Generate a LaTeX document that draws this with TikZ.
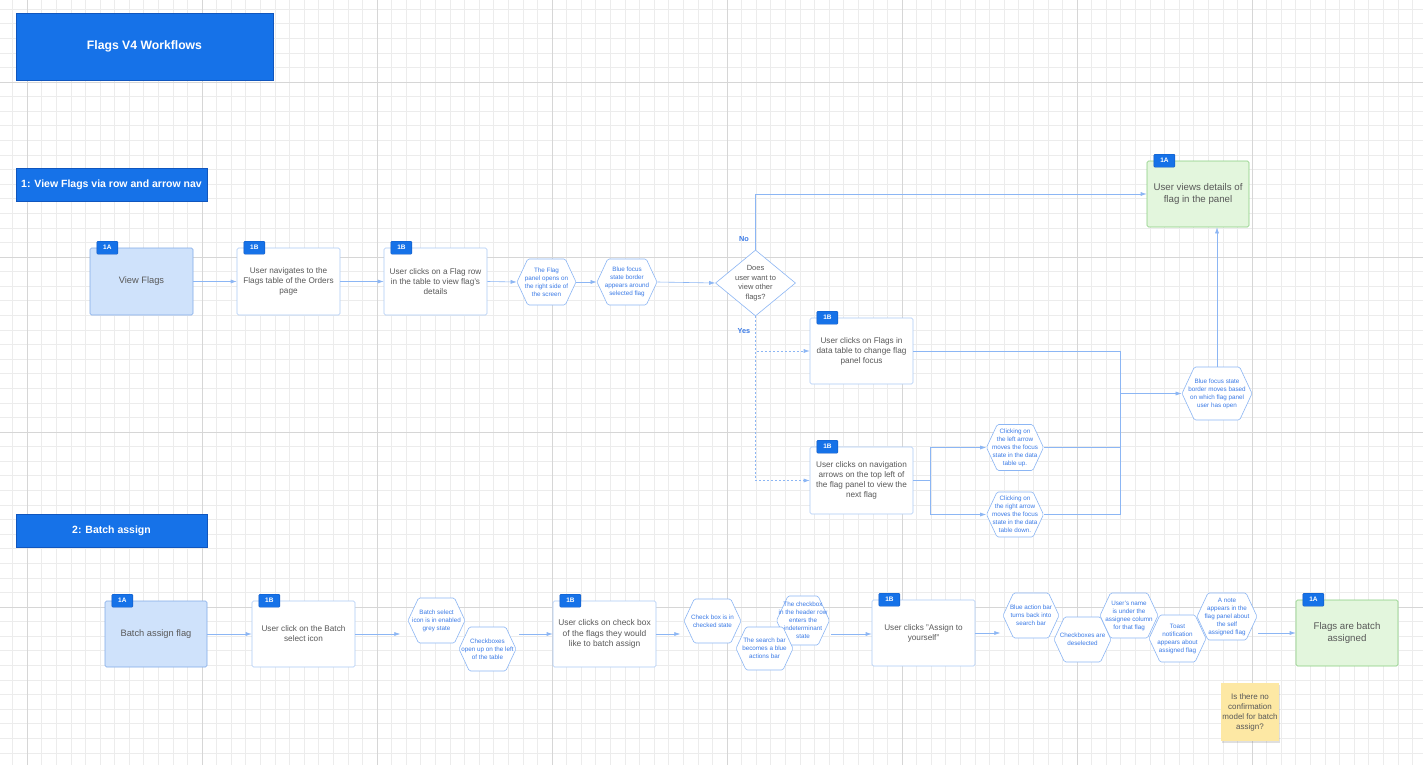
\documentclass[tikz,border=0pt]{standalone}
\usepackage{fontspec}
\setmainfont{Liberation Sans}
\usepackage{xcolor}
\usepackage{tikz}
\usetikzlibrary{calc, shapes.geometric, shapes.symbols, positioning, shadows, arrows.meta}

\definecolor{lucBlue}{RGB}{22,114,232}
\definecolor{lucDark}{RGB}{16,86,190}
\definecolor{startFill}{RGB}{207,226,251}
\definecolor{startLine}{RGB}{128,170,232}
\definecolor{endFill}{RGB}{227,246,221}
\definecolor{endLine}{RGB}{135,205,125}
\definecolor{boxLine}{RGB}{172,202,245}
\definecolor{hexLine}{RGB}{140,182,244}
\definecolor{hexText}{RGB}{58,122,230}
\definecolor{flowLine}{RGB}{140,182,244}
\definecolor{txtGray}{RGB}{88,88,88}
\definecolor{noteFill}{RGB}{253,232,164}
\definecolor{gridMinor}{RGB}{236,236,236}
\definecolor{gridMajor}{RGB}{214,214,214}

\begin{document}
\begin{tikzpicture}[>={Latex[length=6pt, width=4pt]}, x=1pt, y=-1pt,
    header/.style={fill=lucBlue, draw=lucDark, line width=0.6pt, text=white,
        font=\bfseries\fontsize{10.5}{12}\selectfont},
    wbox/.style={draw=boxLine, fill=white, rounded corners=1.5pt, line width=0.6pt,
        minimum width=103pt, minimum height=67pt, align=center, inner sep=0pt,
        text=txtGray, font=\fontsize{8.2}{10}\selectfont},
    abox/.style={wbox, fill=startFill, draw=startLine, font=\fontsize{9.3}{11}\selectfont},
    gbox/.style={wbox, fill=endFill, draw=endLine, font=\fontsize{9.7}{12.5}\selectfont},
    tag/.style={fill=lucBlue, draw=lucDark, rounded corners=1pt, text=white,
        font=\bfseries\fontsize{6.5}{7}\selectfont, minimum width=21pt,
        minimum height=13pt, inner sep=0pt, anchor=west, xshift=7pt},
    hexa/.style={signal, signal to=west and east, signal pointer angle=130,
        draw=hexLine, fill=white, rounded corners=1.5pt, line width=0.6pt,
        minimum width=58pt, minimum height=46pt, text=hexText, align=center,
        inner xsep=-12pt, inner ysep=0pt, font=\fontsize{6.3}{8}\selectfont},
    flow/.style={->, draw=flowLine, line width=0.6pt},
    link/.style={draw=flowLine, line width=0.6pt},
    dflow/.style={flow, dash pattern=on 2pt off 2pt},
    answer/.style={text=hexText, font=\bfseries\fontsize{7.3}{8}\selectfont}]

    \useasboundingbox (0,0) rectangle (1423,765);
    % Lưới nền
    \fill[white] (0,0) rectangle (1423,765);
    \foreach \i in {-1,...,96}
        \draw[gridMinor, line width=0.5pt] ({27+14.583*\i},0) -- ({27+14.583*\i},765);
    \foreach \j in {-5,...,46}
        \draw[gridMinor, line width=0.5pt] (0,{82+14.583*\j}) -- (1423,{82+14.583*\j});
    \foreach \i in {0,...,7}
        \draw[gridMajor, line width=0.8pt] ({27+175*\i},0) -- ({27+175*\i},765);
    \foreach \j in {0,...,3}
        \draw[gridMajor, line width=0.8pt] (0,{82+175*\j}) -- (1423,{82+175*\j});

    % Tiêu đề
    \node[header, minimum width=257pt, minimum height=67pt,
        font=\bfseries\fontsize{12.2}{14}\selectfont] (title) at (144.5,46.5) {Flags V4 Workflows};
    \node[header, minimum width=191pt, minimum height=33pt] (sec1) at (111.5,184.5)
        {1: View Flags via row and arrow nav};
    \node[header, minimum width=191pt, minimum height=33pt] (sec2) at (111.5,530.5)
        {2: Batch assign};

    % Luồng 1
    \node[abox] (v1) at (141.5,281.5) {View Flags};
    \node[wbox] (v2) at (288.5,281.5) {User navigates to the\\Flags table of the Orders\\page};
    \node[wbox] (v3) at (435.5,281.5) {User clicks on a Flag row\\in the table to view flag's\\details};
    \node[hexa, minimum width=59pt] (h1) at (546.5,282) {The Flag\\panel opens on\\the right side of\\the screen};
    \node[hexa, minimum width=60pt] (h2) at (627,282) {Blue focus\\state border\\appears around\\selected flag};
    \node[diamond, draw=hexLine, fill=white, line width=0.6pt, minimum width=80pt,
        minimum height=66pt, inner sep=-4pt, align=center, text=txtGray,
        font=\fontsize{7.5}{9.6}\selectfont] (d1) at (755.5,283)
        {Does\\user want to\\view other\\flags?};
    \node[gbox, minimum width=102pt, minimum height=66pt] (u1) at (1198,194)
        {User views details of\\flag in the panel};
    \node[wbox, minimum height=66pt] (c1) at (861.5,351)
        {User clicks on Flags in\\data table to change flag\\panel focus};
    \node[wbox] (c2) at (861.5,480.5)
        {User clicks on navigation\\arrows on the top left of\\the flag panel to view the\\next flag};
    \node[hexa, minimum width=57pt] (h3) at (1015,447.5)
        {Clicking on\\the left arrow\\moves the focus\\state in the data\\table up.};
    \node[hexa, minimum width=57pt, minimum height=45pt] (h4) at (1015,514.5)
        {Clicking on\\the right arrow\\moves the focus\\state in the data\\table down.};
    \node[hexa, minimum width=70pt, minimum height=53pt] (h5) at (1217,393.5)
        {Blue focus state\\border moves based\\on which flag panel\\user has open};
    \coordinate (j1) at (1120,393.5);
    \coordinate (j2) at (930,480.5);

    \draw[flow] (v1.east) -- (v2.west);
    \draw[flow] (v2.east) -- (v3.west);
    \draw[flow] (v3.east) -- (h1.west);
    \draw[flow] (h1.east) -- (h2.west);
    \draw[flow] (h2.east) -- (d1.west);
    \draw[flow] (d1.north) |- (u1.west);
    \draw[dflow] (d1.south) |- (c1.west);
    \draw[dflow] (d1.south) |- (c2.west);
    \node[answer] (no) at (744,239) {No};
    \node[answer] (yes) at (744,331) {Yes};
    \draw[link] (c1.east) -| (j1);
    \draw[flow] (j1) -- (h5.west);
    \draw[link] (c2.east) -- (j2);
    \draw[flow] (j2) |- (h3.west);
    \draw[flow] (j2) |- (h4.west);
    \draw[link] (h3.east) -| (j1);
    \draw[link] (h4.east) -| (j1);
    \draw[flow] (h5.north) -- (h5.north |- u1.south);

    % Luồng 2
    \node[abox, minimum width=102pt, minimum height=66pt] (b1) at (156,634) {Batch assign flag};
    \node[wbox, minimum height=66pt] (b2) at (303.5,634) {User click on the Batch\\select icon};
    \node[hexa, minimum width=57pt, minimum height=45pt] (bh1) at (436.5,620.5)
        {Batch select\\icon is in enabled\\grey state};
    \node[hexa, minimum width=57pt, minimum height=44pt] (bh2) at (487.5,649)
        {Checkboxes\\open up on the left\\of the table};
    \node[wbox, minimum height=66pt, font=\fontsize{8.4}{10.5}\selectfont] (b3) at (604.5,634)
        {User clicks on check box\\of the flags they would\\like to batch assign};
    \node[hexa, minimum width=57pt, minimum height=44pt] (bh3) at (712.5,621)
        {Check box is in\\checked state};
    \node[hexa, minimum width=53pt, minimum height=49pt] (bh5) at (803,620.5)
        {The checkbox\\in the header row\\enters the\\indeterminant\\state};
    \node[hexa, minimum width=57pt, minimum height=43pt] (bh4) at (764.5,648.5)
        {The search bar\\becomes a blue\\actions bar};
    \node[wbox, minimum height=66pt] (b4) at (923.5,633) {User clicks "Assign to\\yourself"};
    \node[hexa, minimum width=56pt, minimum height=45pt] (bh6) at (1031,615.5)
        {Blue action bar\\turns back into\\search bar};
    \node[hexa, minimum width=57pt, minimum height=45pt] (bh7) at (1082.5,639.5)
        {Checkboxes are\\deselected};
    \node[hexa, minimum width=58pt, minimum height=45pt] (bh8) at (1129,615.5)
        {User's name\\is under the\\assignee column\\for that flag};
    \node[hexa, minimum width=60pt, minimum height=47pt] (bh10) at (1227,616.5)
        {A note\\appears in the\\flag panel about\\the self\\assigned flag};
    \node[hexa, minimum width=57pt, minimum height=47pt] (bh9) at (1177.5,638.5)
        {Toast\\notification\\appears about\\assigned flag};
    \node[gbox, minimum width=102pt, minimum height=66pt] (b5) at (1347,633)
        {Flags are batch\\assigned};
    \node[fill=noteFill, minimum width=58pt, minimum height=58pt, align=center,
        inner sep=0pt, text=txtGray, font=\fontsize{8}{10}\selectfont,
        drop shadow={shadow xshift=1pt, shadow yshift=-2pt, opacity=0.25}] (note) at (1250,712)
        {Is there no\\confirmation\\model for batch\\assign?};
    \coordinate (s1) at (519,634);
    \coordinate (s2) at (831,634);
    \coordinate (s3) at (1258,633);

    \draw[flow] (b1.east) -- (b2.west);
    \draw[flow] (b2.east) -- ++(45,0);
    \draw[flow] (s1) -- (b3.west);
    \draw[flow] (b3.east) -- ++(24,0);
    \draw[flow] (s2) -- (s2 -| b4.west);
    \draw[flow] (b4.east) -- ++(25,0);
    \draw[flow] (s3) -- (b5.west);

    % Nhãn
    \foreach \b/\t in {v1/1A, v2/1B, v3/1B, c1/1B, c2/1B, u1/1A, b1/1A, b2/1B, b3/1B, b4/1B, b5/1A}
        \node[tag] (\b-tag) at (\b.north west) {\t};
\end{tikzpicture}
\end{document}
